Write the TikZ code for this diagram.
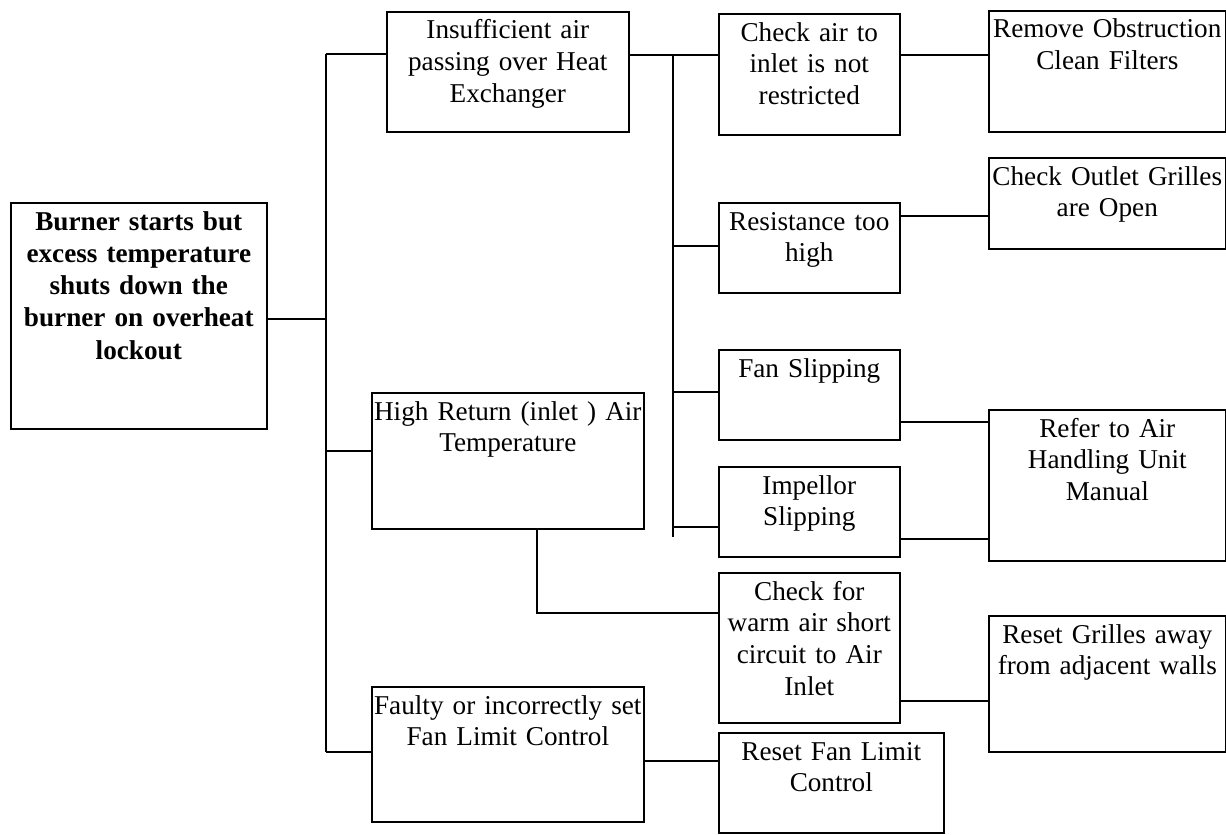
\documentclass[tikz,border=0pt]{standalone}
\usepackage{fontspec}
\setmainfont{Liberation Serif}
\tikzset{
  box/.style 2 args={draw, line width=0.8pt, anchor=north west, inner sep=0pt, align=center,
    text width=#1, text height=13.6pt, text depth=#2,
    font=\fontsize{13.6pt}{15.85pt}\selectfont},
}
\begin{document}
\begin{tikzpicture}[x=0.5pt, y=-0.5pt, line width=0.8pt]
\useasboundingbox (0,0) rectangle (1226,835);

\node[box={128pt}{99.4pt}, font=\fontsize{13.6pt}{16.15pt}\selectfont\bfseries] (root) at (10,202) {Burner starts but\\excess temperature\\shuts down the\\burner on overheat\\lockout};

\node[box={121pt}{46.4pt}] (ins) at (386,11) {Insufficient air\\passing over Heat\\Exchanger};
\node[box={136pt}{54.4pt}] (hrt) at (371,392) {High Return (inlet ) Air\\Temperature};
\node[box={136pt}{53.9pt}] (fault) at (371,686) {Faulty or incorrectly set\\Fan Limit Control};

\node[box={90.5pt}{46.9pt}] (chk) at (718,13) {Check air to\\inlet is not\\restricted};
\node[box={90.5pt}{31.4pt}] (res) at (718,202) {Resistance too\\high};
\node[box={90.5pt}{31.4pt}] (fan) at (718,349) {Fan Slipping};
\node[box={90.5pt}{31.4pt}] (imp) at (718,466) {Impellor\\Slipping};
\node[box={90.5pt}{61.4pt}] (warm) at (718,572) {Check for\\warm air short\\circuit to Air\\Inlet};
\node[box={112.5pt}{36.4pt}] (rfl) at (718,732) {Reset Fan Limit\\Control};

\node[box={118.5pt}{46.9pt}] (rem) at (988,10) {Remove Obstruction\\Clean Filters};
\node[box={118.5pt}{31.9pt}] (outl) at (988,157) {Check Outlet Grilles\\are Open};
\node[box={118.5pt}{61.9pt}] (ahu) at (988,409) {Refer to Air\\Handling Unit\\Manual};
\node[box={118.5pt}{54.4pt}] (grl) at (988,615) {Reset Grilles away\\from adjacent walls};

\coordinate (t1) at (326,54);
\coordinate (t2) at (326,752);
\draw (t1) -- (t2);
\draw (root.east |- 0,319) -- (t1 |- 0,319);
\draw (t1) -- (t1 -| ins.west);
\draw (t1 |- 0,451) -- (hrt.west |- 0,451);
\draw (t2) -- (t2 -| fault.west);

\coordinate (b1) at (673,55);
\coordinate (b2) at (673,537);
\draw (ins.east |- b1) -- (chk.west |- b1);
\draw (b1) -- (b2);
\draw (b1 |- 0,246) -- (res.west |- 0,246);
\draw (b1 |- 0,392) -- (fan.west |- 0,392);
\draw (b1 |- 0,527) -- (imp.west |- 0,527);

\draw (chk.east |- b1) -- (rem.west |- b1);
\draw (res.east |- 0,216) -- (outl.west |- 0,216);
\draw (fan.east |- 0,422) -- (ahu.west |- 0,422);
\draw (imp.east |- 0,539) -- (ahu.west |- 0,539);
\draw (hrt.south -| 537,0) -- (537,613) -- (warm.west |- 0,613);
\draw (warm.east |- 0,701) -- (grl.west |- 0,701);
\draw (fault.east |- 0,761) -- (rfl.west |- 0,761);

\end{tikzpicture}
\end{document}
